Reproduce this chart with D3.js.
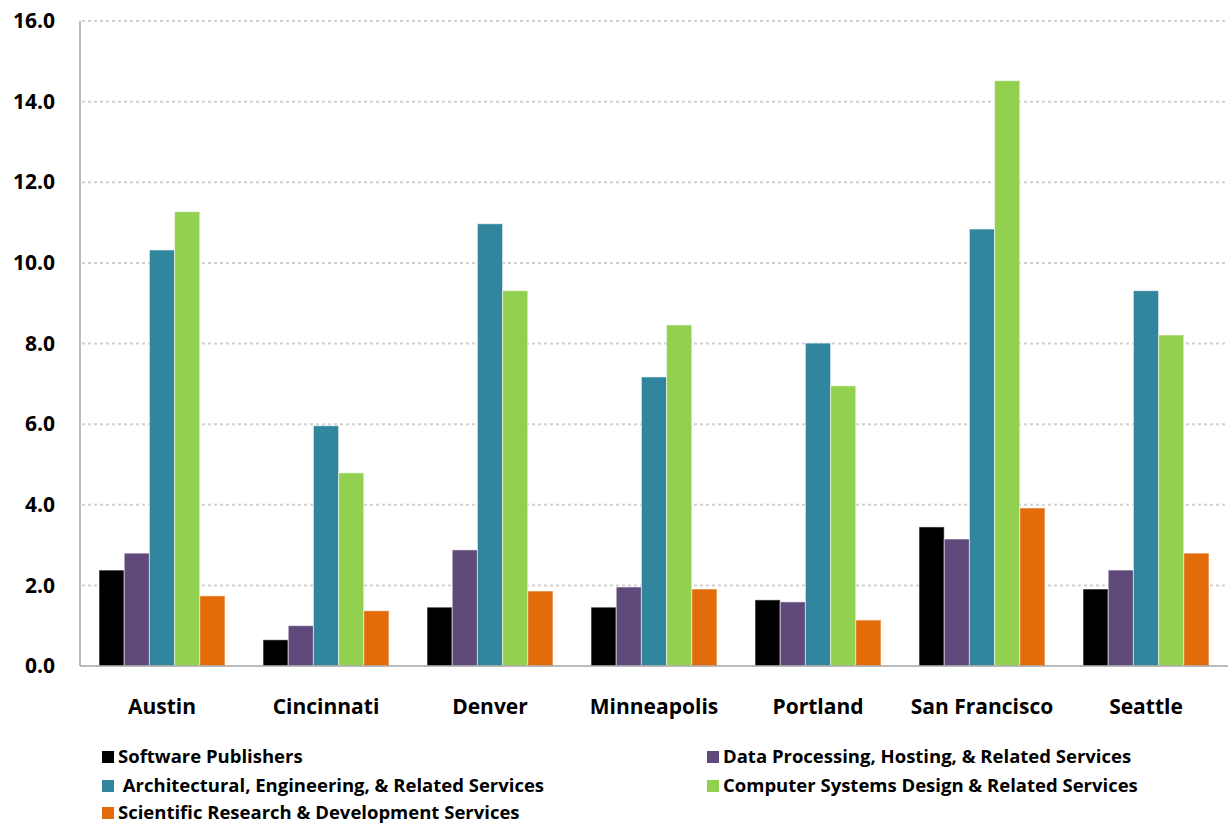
<!DOCTYPE html>
<html>
<head>
<meta charset="utf-8">
<script src="https://cdn.jsdelivr.net/npm/d3@7"></script>
<style>
  html, body { margin: 0; padding: 0; background: #fff; }
  svg text { font-family: "Open Sans", Lato, sans-serif; font-weight: bold; fill: #000; }
</style>
</head>
<body>
<svg id="chart" width="1231" height="823"></svg>
<script>
const cities = ["Austin", "Cincinnati", "Denver", "Minneapolis", "Portland", "San Francisco", "Seattle"];
const seriesNames = [
  "Software Publishers",
  "Data Processing, Hosting, & Related Services",
  " Architectural, Engineering, & Related Services",
  "Computer Systems Design & Related Services",
  "Scientific Research & Development Services"
];
const seriesColors = ["#000000", "#604a7b", "#31859c", "#92d050", "#e36c0a"];
const softwarePublishers = [2.38, 0.65, 1.46, 1.46, 1.64, 3.45, 1.91];
const dataProcessing     = [2.80, 1.00, 2.88, 1.96, 1.59, 3.15, 2.38];
const architectural      = [10.32, 5.96, 10.97, 7.17, 8.01, 10.84, 9.31];
const computerSystems    = [11.27, 4.79, 9.31, 8.46, 6.95, 14.52, 8.21];
const scientificResearch = [1.74, 1.37, 1.86, 1.91, 1.14, 3.92, 2.80];
const yTicks = [0, 2, 4, 6, 8, 10, 12, 14, 16];

const seriesValues = [softwarePublishers, dataProcessing, architectural, computerSystems, scientificResearch];

const svg = d3.select("#chart");
const mLeft = 80, mRight = 1228, mTop = 21, mBottom = 666;
const FONT = "'Open Sans', Lato, sans-serif";

const x0 = d3.scaleBand().domain(cities).range([mLeft, mRight]).paddingInner(0.232).paddingOuter(0.116);
const x1 = d3.scaleBand().domain(d3.range(seriesNames.length)).range([0, x0.bandwidth()]);
const y = d3.scaleLinear().domain([0, 16]).range([mBottom, mTop]);

// gridlines
svg.append("g").selectAll("line").data(yTicks.filter(t => t > 0)).join("line")
  .attr("x1", mLeft + 2).attr("x2", mRight)
  .attr("y1", d => y(d)).attr("y2", d => y(d))
  .attr("stroke", "#d0d0d0").attr("stroke-width", 2).attr("stroke-dasharray", "3,3");

// y axis labels
const yAxis = d3.axisLeft(y).tickValues(yTicks).tickFormat(d3.format(".1f")).tickSize(0).tickPadding(25);
const ya = svg.append("g").attr("transform", `translate(${mLeft},0)`).call(yAxis);
ya.select(".domain").remove();
ya.selectAll("text").style("font-size", "21px").style("font-family", FONT).style("font-weight", "bold").attr("fill", "#000");

// bars
const groups = svg.append("g").selectAll("g").data(cities).join("g")
  .attr("transform", d => `translate(${x0(d)},0)`);
groups.selectAll("rect").data((c, ci) => seriesValues.map((s, si) => ({si, v: s[ci]}))).join("rect")
  .attr("x", d => x1(d.si))
  .attr("width", x1.bandwidth())
  .attr("y", d => y(d.v))
  .attr("height", d => y(0) - y(d.v))
  .attr("fill", d => seriesColors[d.si])
  .attr("stroke", "rgba(255,255,255,0.55)").attr("stroke-width", 1);

// axis lines
svg.append("line").attr("x1", mLeft).attr("x2", mLeft).attr("y1", mTop).attr("y2", mBottom)
  .attr("stroke", "#a6a6a6").attr("stroke-width", 1.5);
svg.append("line").attr("x1", mLeft).attr("x2", mRight).attr("y1", mBottom).attr("y2", mBottom)
  .attr("stroke", "#a6a6a6").attr("stroke-width", 1.5);

// x axis labels
const xAxis = d3.axisBottom(x0).tickSize(0).tickPadding(33);
const xa = svg.append("g").attr("transform", `translate(0,${mBottom})`).call(xAxis);
xa.select(".domain").remove();
xa.selectAll("text").style("font-size", "21px").style("font-family", FONT).style("font-weight", "bold").attr("fill", "#000");

// legend
const legendPos = [
  {x: 102, y: 757}, {x: 707, y: 757},
  {x: 102, y: 786}, {x: 707, y: 786},
  {x: 102, y: 813}
];
const lg = svg.append("g").selectAll("g").data(seriesNames).join("g")
  .attr("transform", (d, i) => `translate(${legendPos[i].x},${legendPos[i].y})`);
lg.append("rect").attr("x", 0).attr("y", -6).attr("width", 12).attr("height", 12)
  .attr("fill", (d, i) => seriesColors[i]);
lg.append("text").attr("x", 16).attr("y", 0).attr("dy", "0.35em")
  .style("font-size", "18.5px").style("font-family", FONT).style("white-space", "pre").attr("xml:space", "preserve")
  .text(d => d);
</script>
</body>
</html>
